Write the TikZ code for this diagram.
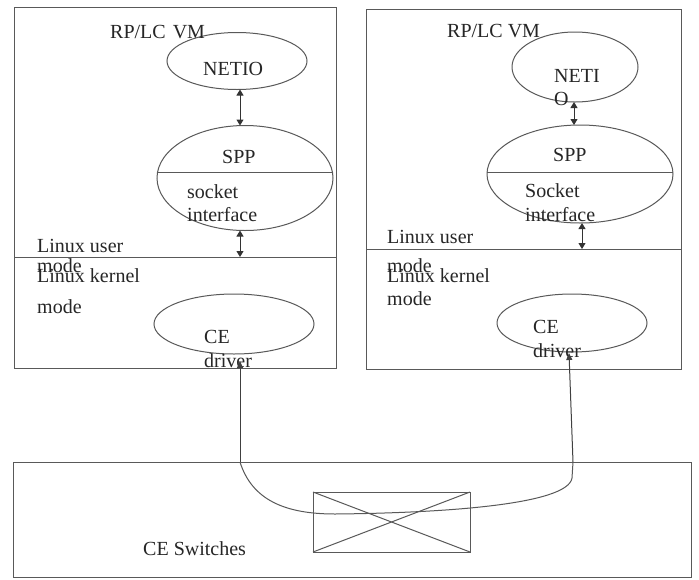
\documentclass[tikz,border=0pt]{standalone}
\usepackage{fontspec}
\setmainfont{Liberation Serif}
\usetikzlibrary{arrows.meta,shapes.geometric}
\begin{document}
\begin{tikzpicture}[x=1pt,y=-1pt,
  line/.style={draw=black!65, line width=1pt},
  box/.style={line, rectangle, inner sep=0pt, outer sep=0pt},
  oval/.style={line, ellipse, inner sep=0pt, outer sep=0pt},
  txt/.style={anchor=base west, inner sep=0pt, text=black!85, font=\fontsize{20}{24}\selectfont},
  dbl/.style={draw=black!80, line width=1pt, {Triangle[length=6pt,width=7pt]}-{Triangle[length=6pt,width=7pt]}},
  uparrow/.style={draw=black!75, line width=1pt, -{Triangle[length=7pt,width=6pt]}}
]
\useasboundingbox[fill=white] (0,0) rectangle (699,579);

% VM boxes
\node[box, minimum width=322pt, minimum height=361pt] (lvm) at (175,187.5) {};
\node[box, minimum width=315pt, minimum height=360pt] (rvm) at (523.5,189) {};
\draw[line] (lvm.west |- 0,257) -- (lvm.east |- 0,257);
\draw[line] (rvm.west |- 0,249) -- (rvm.east |- 0,249);

% switch box
\node[box, minimum width=678pt, minimum height=115pt] (sw) at (352,519.5) {};
\node[box, minimum width=157pt, minimum height=60pt] (xbox) at (391.5,522) {};
\draw[line] (xbox.north west) -- (xbox.south east);
\draw[line] (xbox.south west) -- (xbox.north east);

% left ellipses
\node[oval, minimum width=140pt, minimum height=57pt] (lnetio) at (237,61) {};
\node[oval, minimum width=176pt, minimum height=105pt,
  path picture={\draw[line] ([yshift=6pt]path picture bounding box.west) -- ([yshift=6pt]path picture bounding box.east);}] (lspp) at (245,178) {};
\node[oval, minimum width=160pt, minimum height=60pt] (lce) at (234,324) {};

% right ellipses
\node[oval, minimum width=126pt, minimum height=70pt] (rnetio) at (575,67) {};
\node[oval, minimum width=186pt, minimum height=98pt,
  path picture={\draw[line] ([yshift=2pt]path picture bounding box.west) -- ([yshift=2pt]path picture bounding box.east);}] (rspp) at (580,174) {};
\node[oval, minimum width=150pt, minimum height=58pt] (rce) at (572,323) {};

% texts left
\node[txt] (t1) at (110,38) {RP/LC\hspace{7pt}VM};
\node[txt] (t2) at (203,75) {NETIO};
\node[txt] (t3) at (222,163) {SPP};
\node[txt] (t4) at (187,198) {socket};
\node[txt] (t5) at (187,221) {interface};
\node[txt] (t6) at (37,252) {Linux user};
\node[txt] (t7) at (37,272) {mode};
\node[txt] (t8) at (37,282) {Linux kernel};
\node[txt] (t9) at (37,313) {mode};
\node[txt] (t10) at (204,343) {CE};
\node[txt] (t11) at (204,367) {driver};
\node[txt] (t12) at (143,555) {CE Switches};

% texts right
\node[txt] (u1) at (447,37) {RP/LC VM};
\node[txt] (u2) at (554,82) {NETI};
\node[txt] (u3) at (554,105) {O};
\node[txt] (u4) at (553,161) {SPP};
\node[txt] (u5) at (525,197) {Socket};
\node[txt] (u6) at (525,221) {interface};
\node[txt] (u7) at (387,243) {Linux user};
\node[txt] (u8) at (387,272) {mode};
\node[txt] (u9) at (387,282) {Linux kernel};
\node[txt] (u10) at (387,305) {mode};
\node[txt] (u11) at (533,333) {CE};
\node[txt] (u12) at (533,357) {driver};

% small double arrows
\coordinate (ldiv) at (240,257);
\coordinate (rdiv) at (582,249);
\draw[dbl] (lnetio.south -| 240,0) -- (lspp.north -| 240,0);
\draw[dbl] (lspp.south -| 240,0) -- (ldiv);
\draw[dbl] (rnetio.south -| 574,0) -- (rspp.north -| 574,0);
\draw[dbl] (rspp.south -| 582,0) -- (rdiv);

% links to switches
\coordinate (ltap) at (240,462);
\coordinate (ltip) at (240,361);
\coordinate (rtap) at (573,462);
\coordinate (rtip) at (569,353);
\draw[uparrow] (ltap) -- (ltip);
\draw[uparrow] (rtap) -- (rtip);
\draw[line] (ltap) .. controls (252,500) and (285,514) .. (335,514)
  .. controls (440,513) and (568,505) .. (572,478) -- (rtap);
\end{tikzpicture}
\end{document}
